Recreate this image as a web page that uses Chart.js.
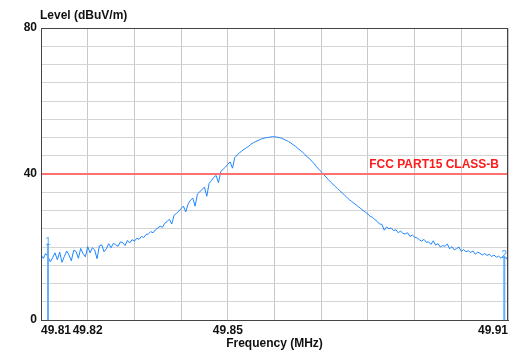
<!DOCTYPE html>
<html lang="en">
<head>
  <meta charset="UTF-8">
  <title>Level vs Frequency</title>
  <script src="https://cdn.jsdelivr.net/npm/chart.js"></script>
  <style>
    body { margin: 0; background: #fff; }
    canvas { display: block; }
  </style>
</head>
<body>
  <canvas id="scan" width="518" height="356"></canvas>
  <script>
    // sweep: 49.81 .. 49.91 MHz, one reading every 0.0005 MHz
    const freqStart = 49.81;
    const freqStep = 0.0005;
    const levels = [
      17.8, 16.9, 18.2, 17.4, 15.9, 17.1, 18.4, 16.5, 18.6, 15.8,
      17.4, 18.9, 17.8, 16.2, 19.1, 18.8, 16.9, 19.6, 18.2, 17.3,
      20.1, 18.4, 19.8, 19.2, 16.8, 20.3, 20.6, 18.7, 19.5, 20.9,
      19.8, 21.0, 20.6, 20.2, 21.4, 21.2, 20.4, 21.8, 21.1, 22.0,
      21.6, 22.4, 22.1, 22.9, 22.6, 23.4, 23.6, 24.2, 23.9, 24.7,
      25.2, 25.7, 25.4, 26.5, 27.0, 27.6, 26.3, 28.7, 29.2, 29.8,
      30.5, 31.2, 29.6, 31.8, 32.8, 33.4, 31.2, 34.5, 35.1, 35.8,
      36.4, 33.9, 37.4, 38.2, 39.1, 39.6, 37.6, 40.7, 41.3, 41.9,
      42.7, 43.3, 41.6, 44.5, 45.2, 45.8, 46.3, 46.8, 47.2, 47.6,
      48.2, 48.6, 48.9, 49.2, 49.5, 49.7, 49.9, 50.0, 50.1, 50.2,
      50.2, 50.1, 50.0, 49.8, 49.5, 49.2, 48.9, 48.5, 48.0, 47.6,
      47.0, 46.5, 46.0, 45.3, 44.7, 44.2, 43.5, 42.8, 42.0, 41.3,
      40.6, 39.9, 39.2, 38.5, 37.8, 37.2, 36.6, 36.0, 35.4, 34.8,
      34.2, 33.6, 33.0, 32.5, 32.0, 31.5, 31.0, 30.5, 30.0, 29.5,
      29.0, 28.4, 28.1, 27.5, 27.0, 26.3, 26.2, 24.6, 25.5, 25.0,
      25.2, 24.5, 24.7, 23.9, 24.4, 23.7, 23.6, 23.9, 22.9, 23.3,
      22.7, 22.5, 22.0, 21.6, 22.1, 21.3, 21.4, 20.7, 21.7, 20.5,
      20.9, 20.0, 20.4, 20.2, 20.8, 19.5, 20.1, 19.2, 19.6, 20.0,
      18.8, 19.3, 18.7, 19.0, 18.5, 18.9, 18.0, 18.6, 18.3, 17.8,
      18.2, 17.7, 18.0, 17.4, 17.8, 17.2, 17.5, 16.9, 17.6, 17.0, 16.6
    ];

    const markerNames = ['1', '2'];
    const markerFreqs = [49.8115, 49.9092];
    const markerLevels = [21, 17.5];

    const limitLevel = 40;
    const limitLabel = 'FCC PART15 CLASS-B';

    const xTickLabels = ['49.81', '49.82', '49.85', '49.91'];
    const yTickLabels = [0, 40, 80];

    const FONT = "'Liberation Sans', Arial, sans-serif";

    const trace = levels.map((y, i) => ({ x: +(freqStart + i * freqStep).toFixed(4), y }));

    const markerSets = markerFreqs.map((f, i) => ({
      label: 'marker ' + markerNames[i],
      data: [{ x: f, y: 0 }, { x: f, y: markerLevels[i] }],
      borderColor: '#62b0ff',
      borderWidth: 2,
      pointRadius: 0
    }));

    const frame = {
      id: 'frame',
      afterDatasetsDraw(chart) {
        const { ctx, chartArea: a, scales } = chart;
        ctx.save();
        ctx.strokeStyle = '#444';
        ctx.lineWidth = 1;
        ctx.strokeRect(a.left + 0.5, a.top + 0.5, a.right - a.left - 1, a.bottom - a.top);

        // limit label
        ctx.fillStyle = '#ff1a1a';
        ctx.font = 'bold 12px ' + FONT;
        ctx.textAlign = 'right';
        ctx.textBaseline = 'bottom';
        ctx.fillText(limitLabel, a.right - 9, scales.y.getPixelForValue(limitLevel) - 3);

        // marker numbers
        ctx.fillStyle = '#4aa4ff';
        ctx.font = '10px ' + FONT;
        ctx.textAlign = 'center';
        markerFreqs.forEach((f, i) => {
          ctx.fillText(markerNames[i], scales.x.getPixelForValue(f), scales.y.getPixelForValue(markerLevels[i]) + 4);
        });

        // y axis title above the plot
        ctx.fillStyle = '#111';
        ctx.font = 'bold 12px ' + FONT;
        ctx.textAlign = 'left';
        ctx.textBaseline = 'middle';
        ctx.fillText('Level (dBuV/m)', 40, 16);
        ctx.restore();
      }
    };

    new Chart(document.getElementById('scan'), {
      type: 'line',
      data: {
        datasets: [
          {
            label: 'limit',
            data: [{ x: 49.81, y: limitLevel }, { x: 49.91, y: limitLevel }],
            borderColor: '#ff7070',
            borderWidth: 2,
            pointRadius: 0
          },
          ...markerSets,
          {
            label: 'level',
            data: trace,
            borderColor: '#1e86ff',
            borderWidth: 1,
            pointRadius: 0,
            tension: 0
          }
        ]
      },
      options: {
        responsive: false,
        animation: false,
        devicePixelRatio: 1,
        layout: { padding: { top: 28, right: 10, left: 0, bottom: 0 } },
        plugins: { legend: { display: false }, tooltip: { enabled: false } },
        scales: {
          x: {
            type: 'linear',
            min: 49.81,
            max: 49.91,
            afterFit: s => { s.height = 36; },
            grid: { color: '#c8c8c8', drawTicks: false },
            border: { color: '#444' },
            ticks: {
              stepSize: 0.01,
              autoSkip: false,
              maxRotation: 0,
              align: 'inner',
              padding: 3,
              color: '#111',
              font: { family: FONT, size: 12, weight: 'bold' },
              callback: v => {
                const s = Number(v).toFixed(2);
                return xTickLabels.includes(s) ? s : '';
              }
            },
            title: {
              display: true,
              text: 'Frequency (MHz)',
              color: '#111',
              font: { family: FONT, size: 12, weight: 'bold' },
              padding: { top: 0, bottom: 5 }
            }
          },
          y: {
            min: 0,
            max: 80,
            afterFit: s => { s.width = 41; },
            grid: { color: '#d4d4d4', drawTicks: false },
            border: { color: '#444' },
            ticks: {
              stepSize: 5,
              autoSkip: false,
              padding: 4,
              color: '#111',
              font: { family: FONT, size: 12, weight: 'bold' },
              callback: v => yTickLabels.includes(v) ? String(v) : ''
            }
          }
        }
      },
      plugins: [frame]
    });
  </script>
</body>
</html>
